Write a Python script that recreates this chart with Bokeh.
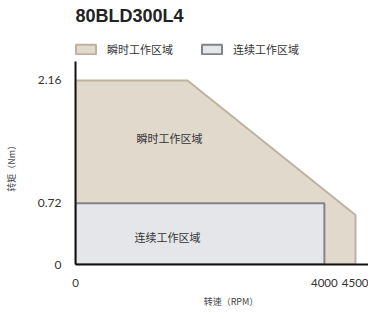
from bokeh.plotting import figure
from bokeh.models import Range1d, FixedTicker, Legend, LegendItem, Label
from bokeh.core.properties import value
from bokeh.embed import file_html
from bokeh.resources import INLINE

title_text = "80BLD300L4"
region_names = ["瞬时工作区域", "连续工作区域"]

# Instantaneous (peak) working region outline
inst_speed = [0, 0, 1800, 4500, 4500]
inst_torque = [0, 2.16, 2.16, 0.58, 0]

# Continuous working region outline
cont_speed = [0, 0, 4000, 4000]
cont_torque = [0, 0.72, 0.72, 0]

x_ticks = [0, 4000, 4500]
y_ticks = [0, 0.72, 2.16]
y_tick_labels = {0: "0", 0.72: "0.72", 2.16: "2.16"}

x_label = "转速（RPM）"
y_label = "转矩（Nm）"

CJK = "Noto Sans CJK SC"
NUM = "Lato"
PAD = "\u3000"

p = figure(frame_width=293, frame_height=264, output_backend="svg", toolbar_location=None,
           x_range=Range1d(0, 4709), y_range=Range1d(0, 3.099),
           min_border_left=75, min_border_right=0, min_border_top=0, min_border_bottom=0)

p.outline_line_color = None
p.grid.visible = False

inst = p.patch(inst_speed, inst_torque, fill_color="#e0d9cc", line_color="#bfb29e", line_width=2)
cont = p.patch(cont_speed, cont_torque, fill_color="#e5e6e9", line_color="#828487", line_width=2)

p.text(x=[1510], y=[1.49], text=[region_names[0]], text_font=value(CJK), text_font_size="11px",
       text_align="center", text_baseline="middle", text_color="#333333")
p.text(x=[1480], y=[0.32], text=[region_names[1]], text_font=value(CJK), text_font_size="11px",
       text_align="center", text_baseline="middle", text_color="#333333")

title = Label(x=0, y=249, x_units="screen", y_units="screen", text=title_text,
              text_font="Liberation Sans", text_font_size="18px", text_font_style="bold",
              text_color="#222222", text_baseline="middle", text_align="left")
p.add_layout(title)

legend = Legend(items=[LegendItem(label=region_names[0], renderers=[inst]),
                       LegendItem(label=region_names[1], renderers=[cont])],
                orientation="horizontal", location=(-2, 207),
                label_text_font=CJK, label_text_font_size="11px", label_text_color="#333333",
                glyph_width=25, glyph_height=12, label_standoff=9, spacing=26,
                border_line_color=None, background_fill_alpha=0, padding=0, margin=0)
p.add_layout(legend)

xa = p.xaxis[0]
xa.ticker = FixedTicker(ticks=x_ticks)
xa.bounds = (0, 4709)
xa.axis_line_color = "#111111"
xa.axis_line_width = 2
xa.major_tick_line_color = None
xa.minor_tick_line_color = None
xa.major_label_text_font = NUM
xa.major_label_text_font_size = "11.5px"
xa.major_label_text_color = "#333333"
xa.major_label_standoff = 8
xa.axis_label = PAD * 2 + x_label
xa.axis_label_text_font = CJK
xa.axis_label_text_font_size = "9px"
xa.axis_label_text_font_style = "normal"
xa.axis_label_standoff = 5

ya = p.yaxis[0]
ya.ticker = FixedTicker(ticks=y_ticks)
ya.major_label_overrides = y_tick_labels
ya.bounds = (0, 2.383)
ya.axis_line_color = "#111111"
ya.axis_line_width = 2
ya.major_tick_line_color = None
ya.minor_tick_line_color = None
ya.major_label_text_font = NUM
ya.major_label_text_font_size = "12px"
ya.major_label_text_color = "#333333"
ya.major_label_standoff = 8
ya.axis_label = y_label + PAD * 8
ya.axis_label_text_font = CJK
ya.axis_label_text_font_size = "9px"
ya.axis_label_text_font_style = "normal"
ya.axis_label_standoff = 17

open("out.html", "w").write(file_html(p, INLINE))
